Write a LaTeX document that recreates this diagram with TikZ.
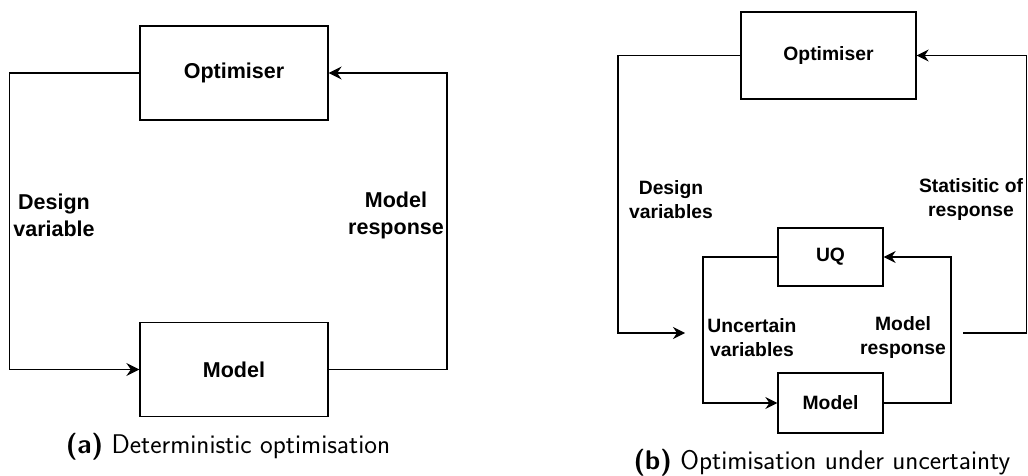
\documentclass[tikz,border=0pt]{standalone}
\usepackage{fontspec}
\newfontfamily\labfont{Liberation Sans}
\usetikzlibrary{arrows.meta}
\begin{document}
\begin{tikzpicture}[x=1pt,y=-1pt,
  box/.style={draw,line width=1.3pt,inner sep=0pt,font=\labfont\bfseries},
  boxa/.style={box,minimum width=188pt,minimum height=94pt,font=\labfont\bfseries\fontsize{21.5}{26}\selectfont},
  boxb/.style={box,font=\labfont\bfseries\fontsize{19.3}{24}\selectfont},
  conn/.style={line width=1.3pt},
  arra/.style={conn,-{Stealth[length=13pt,width=13pt,inset=4.5pt]}},
  arrb/.style={conn,-{Stealth[length=12pt,width=12pt,inset=4pt]}},
  laba/.style={align=center,inner sep=0pt,font=\labfont\bfseries\fontsize{21.5}{27}\selectfont},
  labb/.style={align=center,inner sep=0pt,font=\labfont\bfseries\fontsize{19.3}{24}\selectfont},
  captext/.style={inner sep=0pt,font=\sffamily\fontsize{27}{32}\selectfont}]
\useasboundingbox (0,0) rectangle (1028,476);
% (a)
\node[boxa] (opta) at (234,73) {Optimiser};
\node[boxa] (moda) at (234,369.5) {Model};
\draw[arra] (opta.west) -- (9.5,73) -- (9.5,369.5) -- (moda.west);
\draw[arra] (moda.east) -- (447,369.5) -- (447,73) -- (opta.east);
\node[laba] (dva) at (54,215) {Design\\variable};
\node[laba] (mra) at (396,215) {Model\\response};
\node[captext] (capa) at (228,447) {\textbf{(a)} Deterministic optimisation};
% (b)
\node[boxb,minimum width=175pt,minimum height=87pt] (optb) at (828.5,55.5) {Optimiser};
\node[boxb,minimum width=105pt,minimum height=58pt] (uq) at (830.5,257) {UQ};
\node[boxb,minimum width=105pt,minimum height=60pt] (modb) at (830.5,403) {Model};
\coordinate (dvend) at (685,333);
\coordinate (srstart) at (963,333);
\draw[arrb] (optb.west) -- (618,55.5) -- (618,333) -- (dvend);
\draw[arrb] (srstart) -- (1026.5,333) -- (1026.5,55.5) -- (optb.east);
\draw[arrb] (uq.west) -- (703,257) -- (703,403) -- (modb.west);
\draw[arrb] (modb.east) -- (951,403) -- (951,257) -- (uq.east);
\node[labb] (dvb) at (671,200) {Design\\variables};
\node[labb] (srb) at (971,200) {Statisitic of\\response};
\node[labb] (uvb) at (752,338) {Uncertain\\variables};
\node[labb] (mrb) at (903,338) {Model\\response};
\node[captext] (capb) at (822,463) {\textbf{(b)} Optimisation under uncertainty};
\end{tikzpicture}
\end{document}
